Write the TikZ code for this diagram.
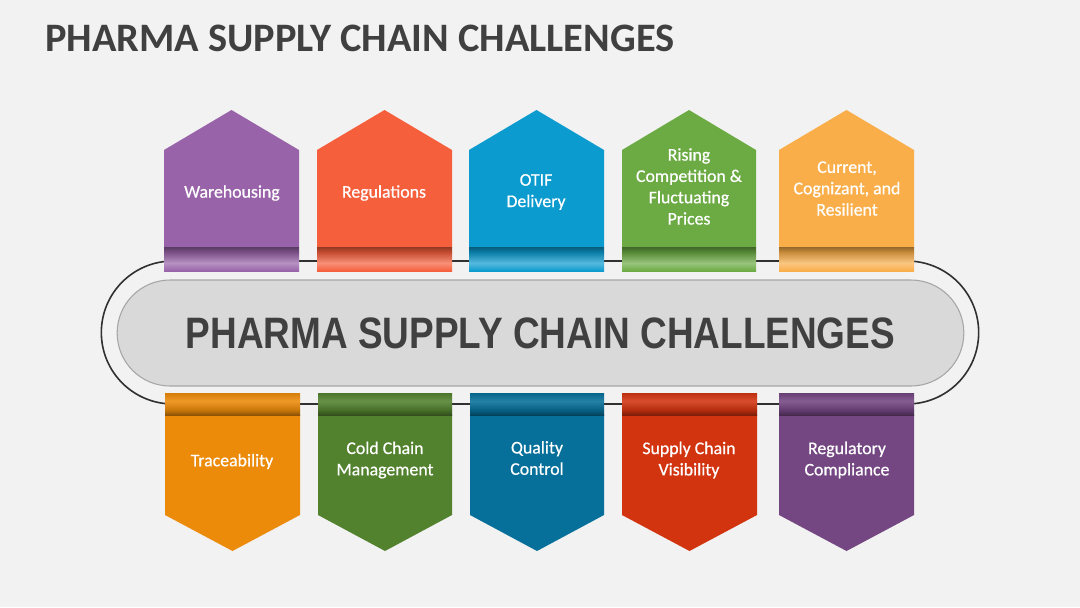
\documentclass[tikz,border=0pt]{standalone}
\usepackage{fontspec}
\setmainfont{Carlito}
\newfontfamily\pillfont[FakeStretch=0.84]{Liberation Sans}
\newfontfamily\flagfont[FakeBold=0.6]{Carlito}
\usetikzlibrary{positioning}
\definecolor{pagebg}{HTML}{F2F2F2}
\definecolor{looplin}{HTML}{303030}
\definecolor{pillblk}{HTML}{D9D9D9}
\definecolor{pilledge}{HTML}{A6A6A6}
\definecolor{inktxt}{HTML}{404040}
\definecolor{tpurple}{HTML}{9863A8}
\definecolor{tred}{HTML}{F55F3C}
\definecolor{tblue}{HTML}{0C9BCF}
\definecolor{tgreen}{HTML}{6CAB44}
\definecolor{tamber}{HTML}{F9AE4A}
\definecolor{borange}{HTML}{EC8B0A}
\definecolor{bgreen}{HTML}{53822F}
\definecolor{bteal}{HTML}{07709A}
\definecolor{bred}{HTML}{D2340F}
\definecolor{bpurple}{HTML}{744682}
% upward flag: left edge, right edge, colour
\newcommand{\upflag}[3]{%
  \fill[#3] (#1,247) -- (#1,150) -- ({(#1+#2)/2},110) -- (#2,150) -- (#2,247) -- cycle;
  \shade[top color=#3!60!black, bottom color=#3!80!black] (#1,247) rectangle (#2,252);
  \shade[top color=#3!80!black, bottom color=#3!70!white] (#1,252) rectangle (#2,263);
  \shade[top color=#3!70!white, bottom color=#3] (#1,263) rectangle (#2,271);
}
% downward flag: left edge, right edge, colour
\newcommand{\downflag}[3]{%
  \fill[#3] (#1,414) -- (#1,515) -- ({(#1+#2)/2},551) -- (#2,515) -- (#2,414) -- cycle;
  \shade[top color=#3!90!black, bottom color=#3!88!white] (#1,393) rectangle (#2,401);
  \shade[top color=#3!88!white, bottom color=#3!85!black] (#1,401) rectangle (#2,410);
  \shade[top color=#3!85!black, bottom color=#3!60!black] (#1,410) rectangle (#2,415);
}
\begin{document}
\begin{tikzpicture}[
  x=0.75pt, y=-0.75pt,
  titletxt/.style={font=\fontsize{30.3pt}{34pt}\selectfont\bfseries, text=inktxt, inner sep=0pt},
  looprect/.style={draw=looplin, line width=1.2pt, rounded corners=53.6pt,
                   minimum width=658pt, minimum height=107.2pt, inner sep=0pt},
  pillrect/.style={draw=pilledge, fill=pillblk, line width=0.8pt, rounded corners=39.7pt,
                   minimum width=635pt, minimum height=79.5pt, inner sep=0pt,
                   font=\pillfont\fontsize{33pt}{36pt}\selectfont\bfseries, text=inktxt},
  flagtxt/.style={font=\flagfont\fontsize{13.35pt}{16pt}\selectfont, text=white, align=center, inner sep=0pt},
]
  \useasboundingbox[fill=pagebg] (0,0) rectangle (1080,607);

  \node[titletxt, anchor=west] (heading) at (45,38.5) {PHARMA SUPPLY CHAIN CHALLENGES};

  % Centre band
  \node[looprect] (loopline) at (540,332.5) {};
  \node[pillrect] (pill) at (540.5,333) {PHARMA SUPPLY CHAIN CHALLENGES};

  % Upper flags
  \upflag{164}{299}{tpurple}
  \upflag{317}{452}{tred}
  \upflag{469}{604}{tblue}
  \upflag{622}{756}{tgreen}
  \upflag{779}{914}{tamber}
  \node[flagtxt] (warehousing) at (232,193) {Warehousing};
  \node[flagtxt] (regulations) at (384,193) {Regulations};
  \node[flagtxt] (otif) at (536,192) {OTIF\\Delivery};
  \node[flagtxt] (rising) at (689,186.5) {Rising\\Competition \&\\Fluctuating\\Prices};
  \node[flagtxt] (current) at (847,188.5) {Current,\\Cognizant, and\\Resilient};

  % Lower flags
  \downflag{165}{300}{borange}
  \downflag{318}{452}{bgreen}
  \downflag{470}{604}{bteal}
  \downflag{622}{757}{bred}
  \downflag{779}{914}{bpurple}
  \node[flagtxt] (traceability) at (232,461.5) {Traceability};
  \node[flagtxt] (coldchain) at (385,460) {Cold Chain\\Management};
  \node[flagtxt] (quality) at (537,458) {Quality\\Control};
  \node[flagtxt] (visibility) at (689,460) {Supply Chain\\Visibility};
  \node[flagtxt] (compliance) at (847,460) {Regulatory\\Compliance};
\end{tikzpicture}
\end{document}
